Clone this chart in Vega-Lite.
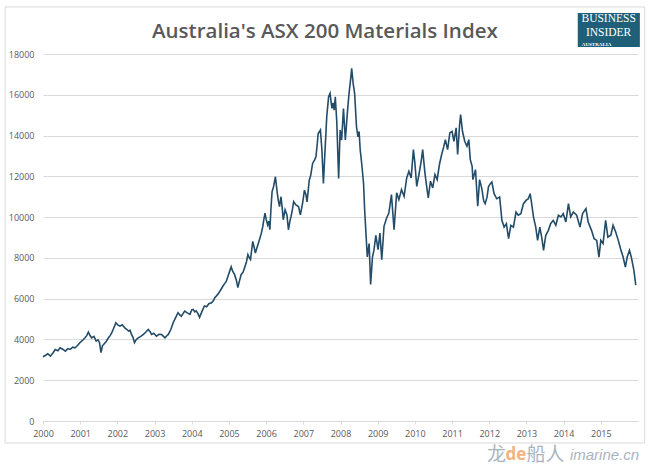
{
  "$schema": "https://vega.github.io/schema/vega-lite/v6.json",
  "width": 595,
  "height": 367,
  "autosize": {"type": "none"},
  "padding": {"left": 43, "top": 54, "right": 10, "bottom": 48},
  "background": "white",
  "config": {"view": {"stroke": null}, "font": "Open Sans"},
  "resolve": {"axis": {"x": "independent", "y": "independent"}},
  "datasets": {
    "index": [
      {"year": 2000.0, "value": 3150}, {"year": 2000.06, "value": 3215}, {"year": 2000.13, "value": 3300},
      {"year": 2000.2, "value": 3180}, {"year": 2000.27, "value": 3350}, {"year": 2000.33, "value": 3510},
      {"year": 2000.4, "value": 3450}, {"year": 2000.46, "value": 3590}, {"year": 2000.53, "value": 3520},
      {"year": 2000.6, "value": 3425}, {"year": 2000.67, "value": 3550}, {"year": 2000.73, "value": 3510},
      {"year": 2000.8, "value": 3620}, {"year": 2000.86, "value": 3590}, {"year": 2000.93, "value": 3700},
      {"year": 2000.99, "value": 3840}, {"year": 2001.06, "value": 3950}, {"year": 2001.13, "value": 4080},
      {"year": 2001.18, "value": 4200}, {"year": 2001.22, "value": 4360}, {"year": 2001.27, "value": 4180},
      {"year": 2001.31, "value": 4080}, {"year": 2001.37, "value": 4150}, {"year": 2001.43, "value": 3920},
      {"year": 2001.48, "value": 3980}, {"year": 2001.52, "value": 3840}, {"year": 2001.56, "value": 3350},
      {"year": 2001.6, "value": 3700}, {"year": 2001.63, "value": 3755}, {"year": 2001.7, "value": 3900},
      {"year": 2001.76, "value": 4080}, {"year": 2001.81, "value": 4200}, {"year": 2001.85, "value": 4330},
      {"year": 2001.9, "value": 4550}, {"year": 2001.96, "value": 4820}, {"year": 2002.02, "value": 4700},
      {"year": 2002.07, "value": 4650}, {"year": 2002.13, "value": 4720}, {"year": 2002.2, "value": 4570},
      {"year": 2002.25, "value": 4500}, {"year": 2002.3, "value": 4410}, {"year": 2002.34, "value": 4450},
      {"year": 2002.38, "value": 4245}, {"year": 2002.42, "value": 4100}, {"year": 2002.46, "value": 3840},
      {"year": 2002.51, "value": 4000}, {"year": 2002.56, "value": 4080}, {"year": 2002.63, "value": 4150},
      {"year": 2002.7, "value": 4245}, {"year": 2002.76, "value": 4350}, {"year": 2002.83, "value": 4490},
      {"year": 2002.88, "value": 4380}, {"year": 2002.92, "value": 4245}, {"year": 2002.98, "value": 4300},
      {"year": 2003.05, "value": 4160}, {"year": 2003.12, "value": 4250}, {"year": 2003.19, "value": 4245},
      {"year": 2003.24, "value": 4150}, {"year": 2003.28, "value": 4080}, {"year": 2003.33, "value": 4180},
      {"year": 2003.37, "value": 4245}, {"year": 2003.44, "value": 4500}, {"year": 2003.5, "value": 4820},
      {"year": 2003.56, "value": 5050}, {"year": 2003.63, "value": 5310}, {"year": 2003.68, "value": 5200},
      {"year": 2003.72, "value": 5140}, {"year": 2003.77, "value": 5280}, {"year": 2003.81, "value": 5390},
      {"year": 2003.88, "value": 5300}, {"year": 2003.95, "value": 5230}, {"year": 2004.0, "value": 5450},
      {"year": 2004.04, "value": 5475}, {"year": 2004.08, "value": 5350}, {"year": 2004.12, "value": 5400},
      {"year": 2004.17, "value": 5250}, {"year": 2004.21, "value": 5080}, {"year": 2004.27, "value": 5350},
      {"year": 2004.34, "value": 5640}, {"year": 2004.4, "value": 5600}, {"year": 2004.46, "value": 5750},
      {"year": 2004.53, "value": 5800}, {"year": 2004.58, "value": 5900}, {"year": 2004.62, "value": 6050},
      {"year": 2004.7, "value": 6210}, {"year": 2004.77, "value": 6400}, {"year": 2004.84, "value": 6620},
      {"year": 2004.89, "value": 6750}, {"year": 2004.93, "value": 6860}, {"year": 2004.99, "value": 7190},
      {"year": 2005.03, "value": 7400}, {"year": 2005.06, "value": 7565}, {"year": 2005.1, "value": 7350},
      {"year": 2005.15, "value": 7190}, {"year": 2005.2, "value": 6900}, {"year": 2005.24, "value": 6540},
      {"year": 2005.28, "value": 6850}, {"year": 2005.33, "value": 7190}, {"year": 2005.38, "value": 7300},
      {"year": 2005.42, "value": 7510}, {"year": 2005.47, "value": 7800}, {"year": 2005.51, "value": 8160},
      {"year": 2005.55, "value": 8000}, {"year": 2005.58, "value": 7920}, {"year": 2005.64, "value": 8810},
      {"year": 2005.68, "value": 8500}, {"year": 2005.71, "value": 8240}, {"year": 2005.77, "value": 8600},
      {"year": 2005.82, "value": 8890}, {"year": 2005.87, "value": 9200}, {"year": 2005.91, "value": 9540},
      {"year": 2005.94, "value": 9900}, {"year": 2005.97, "value": 10190}, {"year": 2006.0, "value": 9900},
      {"year": 2006.04, "value": 9620}, {"year": 2006.07, "value": 9800}, {"year": 2006.1, "value": 9380},
      {"year": 2006.13, "value": 10400}, {"year": 2006.16, "value": 11250}, {"year": 2006.2, "value": 11490},
      {"year": 2006.25, "value": 11980}, {"year": 2006.28, "value": 11500}, {"year": 2006.3, "value": 11170},
      {"year": 2006.33, "value": 10800}, {"year": 2006.36, "value": 10520}, {"year": 2006.4, "value": 11000},
      {"year": 2006.43, "value": 10500}, {"year": 2006.46, "value": 9870}, {"year": 2006.51, "value": 10360},
      {"year": 2006.56, "value": 10110}, {"year": 2006.6, "value": 9380}, {"year": 2006.64, "value": 9800},
      {"year": 2006.67, "value": 10030}, {"year": 2006.71, "value": 10400}, {"year": 2006.74, "value": 10760},
      {"year": 2006.8, "value": 10600}, {"year": 2006.87, "value": 10520}, {"year": 2006.92, "value": 10110},
      {"year": 2006.98, "value": 10680}, {"year": 2007.03, "value": 11320}, {"year": 2007.07, "value": 11100},
      {"year": 2007.1, "value": 10750}, {"year": 2007.16, "value": 11810}, {"year": 2007.2, "value": 12060},
      {"year": 2007.25, "value": 12630}, {"year": 2007.3, "value": 12800}, {"year": 2007.34, "value": 12960},
      {"year": 2007.37, "value": 13500}, {"year": 2007.4, "value": 14100}, {"year": 2007.46, "value": 14270},
      {"year": 2007.5, "value": 13290}, {"year": 2007.54, "value": 11650}, {"year": 2007.58, "value": 13120},
      {"year": 2007.63, "value": 14920}, {"year": 2007.68, "value": 15900}, {"year": 2007.72, "value": 16070},
      {"year": 2007.75, "value": 15600}, {"year": 2007.77, "value": 15330}, {"year": 2007.8, "value": 15600},
      {"year": 2007.83, "value": 15250}, {"year": 2007.86, "value": 15900}, {"year": 2007.9, "value": 14680},
      {"year": 2007.95, "value": 11900}, {"year": 2007.99, "value": 14270}, {"year": 2008.03, "value": 13780},
      {"year": 2008.08, "value": 15330}, {"year": 2008.13, "value": 13780}, {"year": 2008.16, "value": 14500},
      {"year": 2008.19, "value": 15250}, {"year": 2008.23, "value": 16070}, {"year": 2008.28, "value": 16890},
      {"year": 2008.3, "value": 17300}, {"year": 2008.34, "value": 16560}, {"year": 2008.38, "value": 16070},
      {"year": 2008.43, "value": 14430}, {"year": 2008.47, "value": 13940}, {"year": 2008.5, "value": 14200},
      {"year": 2008.53, "value": 13290}, {"year": 2008.57, "value": 12630}, {"year": 2008.62, "value": 11650},
      {"year": 2008.65, "value": 10340}, {"year": 2008.69, "value": 9030}, {"year": 2008.72, "value": 8050},
      {"year": 2008.77, "value": 8700}, {"year": 2008.81, "value": 6700}, {"year": 2008.86, "value": 8050},
      {"year": 2008.9, "value": 8380}, {"year": 2008.95, "value": 9100}, {"year": 2009.01, "value": 8400},
      {"year": 2009.06, "value": 9220}, {"year": 2009.11, "value": 7910}, {"year": 2009.17, "value": 9550},
      {"year": 2009.24, "value": 9960}, {"year": 2009.3, "value": 10200}, {"year": 2009.37, "value": 11100},
      {"year": 2009.44, "value": 9380}, {"year": 2009.51, "value": 11190}, {"year": 2009.57, "value": 10860},
      {"year": 2009.64, "value": 11350}, {"year": 2009.71, "value": 11020}, {"year": 2009.78, "value": 11920},
      {"year": 2009.84, "value": 12250}, {"year": 2009.9, "value": 11920}, {"year": 2009.96, "value": 13310},
      {"year": 2010.0, "value": 12660}, {"year": 2010.05, "value": 11510}, {"year": 2010.11, "value": 12090},
      {"year": 2010.17, "value": 12740}, {"year": 2010.21, "value": 13310}, {"year": 2010.27, "value": 12170},
      {"year": 2010.31, "value": 11590}, {"year": 2010.36, "value": 10940}, {"year": 2010.42, "value": 11760},
      {"year": 2010.48, "value": 11430}, {"year": 2010.54, "value": 12090}, {"year": 2010.6, "value": 11840},
      {"year": 2010.66, "value": 12580}, {"year": 2010.72, "value": 13070}, {"year": 2010.78, "value": 13480},
      {"year": 2010.82, "value": 13800}, {"year": 2010.88, "value": 13310}, {"year": 2010.94, "value": 14130},
      {"year": 2011.0, "value": 14210}, {"year": 2011.05, "value": 13720}, {"year": 2011.11, "value": 14380},
      {"year": 2011.15, "value": 13070}, {"year": 2011.2, "value": 14460}, {"year": 2011.23, "value": 15030},
      {"year": 2011.28, "value": 14210}, {"year": 2011.34, "value": 13720}, {"year": 2011.4, "value": 13480},
      {"year": 2011.45, "value": 13800}, {"year": 2011.49, "value": 12820}, {"year": 2011.54, "value": 12490},
      {"year": 2011.56, "value": 11840}, {"year": 2011.63, "value": 12330}, {"year": 2011.69, "value": 10530},
      {"year": 2011.74, "value": 11840}, {"year": 2011.8, "value": 11400}, {"year": 2011.85, "value": 10800},
      {"year": 2011.89, "value": 10660}, {"year": 2011.94, "value": 10980}, {"year": 2011.98, "value": 11500},
      {"year": 2012.03, "value": 11640}, {"year": 2012.07, "value": 11720}, {"year": 2012.13, "value": 11150},
      {"year": 2012.2, "value": 10900}, {"year": 2012.28, "value": 10980}, {"year": 2012.34, "value": 9840},
      {"year": 2012.4, "value": 9510}, {"year": 2012.46, "value": 9680}, {"year": 2012.52, "value": 8940},
      {"year": 2012.58, "value": 9600}, {"year": 2012.65, "value": 9510}, {"year": 2012.72, "value": 10250},
      {"year": 2012.78, "value": 10090}, {"year": 2012.85, "value": 10170}, {"year": 2012.92, "value": 10660},
      {"year": 2012.99, "value": 10820}, {"year": 2013.05, "value": 10900}, {"year": 2013.1, "value": 11150},
      {"year": 2013.14, "value": 10660}, {"year": 2013.19, "value": 10000}, {"year": 2013.25, "value": 9510},
      {"year": 2013.3, "value": 8860}, {"year": 2013.36, "value": 9510}, {"year": 2013.41, "value": 9020},
      {"year": 2013.46, "value": 8370}, {"year": 2013.52, "value": 9110}, {"year": 2013.59, "value": 9350},
      {"year": 2013.65, "value": 9680}, {"year": 2013.72, "value": 9840}, {"year": 2013.79, "value": 9600},
      {"year": 2013.86, "value": 10090}, {"year": 2013.93, "value": 10010}, {"year": 2013.99, "value": 10170},
      {"year": 2014.06, "value": 9760}, {"year": 2014.13, "value": 10660}, {"year": 2014.19, "value": 10010},
      {"year": 2014.26, "value": 10250}, {"year": 2014.35, "value": 10090}, {"year": 2014.44, "value": 9510},
      {"year": 2014.51, "value": 10170}, {"year": 2014.6, "value": 10420}, {"year": 2014.66, "value": 9760},
      {"year": 2014.75, "value": 9350}, {"year": 2014.82, "value": 8940}, {"year": 2014.89, "value": 8860},
      {"year": 2014.95, "value": 8040}, {"year": 2015.0, "value": 8860}, {"year": 2015.06, "value": 8700},
      {"year": 2015.13, "value": 9840}, {"year": 2015.19, "value": 9020}, {"year": 2015.27, "value": 9110},
      {"year": 2015.33, "value": 9600}, {"year": 2015.4, "value": 9270}, {"year": 2015.47, "value": 8860},
      {"year": 2015.53, "value": 8450}, {"year": 2015.6, "value": 8040}, {"year": 2015.66, "value": 7550},
      {"year": 2015.71, "value": 8040}, {"year": 2015.77, "value": 8370}, {"year": 2015.82, "value": 8040},
      {"year": 2015.89, "value": 7390}, {"year": 2015.94, "value": 6660}
    ],
    "one": [{}]
  },
  "layer": [
    {
      "data": {"name": "index"},
      "mark": {"type": "line", "color": "#234c69", "strokeWidth": 1.6},
      "encoding": {
        "x": {
          "field": "year",
          "type": "quantitative",
          "scale": {"domain": [2000, 2016], "nice": false, "zero": false},
          "axis": {
            "values": [2000, 2001, 2002, 2003, 2004, 2005, 2006, 2007, 2008, 2009, 2010, 2011, 2012, 2013, 2014, 2015],
            "format": "d",
            "title": null,
            "grid": false,
            "labelFlush": false,
            "labelOverlap": false,
            "domainColor": "#d9d9d9",
            "tickColor": "#d9d9d9",
            "tickSize": 3,
            "labelColor": "#595959",
            "labelFontSize": 9,
            "labelPadding": 5
          }
        },
        "y": {
          "field": "value",
          "type": "quantitative",
          "scale": {"domain": [0, 18000], "nice": false},
          "axis": {
            "values": [0, 2000, 4000, 6000, 8000, 10000, 12000, 14000, 16000, 18000],
            "format": "d",
            "title": null,
            "grid": true,
            "gridColor": "#d9d9d9",
            "domain": false,
            "ticks": false,
            "labelOverlap": false,
            "labelPadding": 9,
            "labelColor": "#595959",
            "labelFontSize": 9
          }
        }
      }
    },
    {
      "data": {"name": "one"},
      "mark": {"type": "rect", "fill": null, "stroke": "#d9d9d9", "strokeWidth": 1, "clip": false},
      "encoding": {
        "x": {"datum": 1998.98, "type": "quantitative", "axis": null},
        "x2": {"datum": 2016.18},
        "y": {"datum": 20307, "type": "quantitative", "axis": null},
        "y2": {"datum": -1079}
      }
    },
    {
      "data": {"name": "one"},
      "mark": {"type": "text", "color": "#595959", "font": "Open Sans", "fontSize": 20.5, "fontWeight": 600, "align": "center", "baseline": "middle", "clip": false},
      "encoding": {
        "x": {"datum": 2007.58, "type": "quantitative", "axis": null},
        "y": {"datum": 19080, "type": "quantitative", "axis": null},
        "text": {"value": "Australia's ASX 200 Materials Index"}
      }
    },
    {
      "data": {"name": "one"},
      "mark": {"type": "rect", "fill": "#1f5f78", "clip": false},
      "encoding": {
        "x": {"datum": 2014.38, "type": "quantitative", "axis": null},
        "x2": {"datum": 2016.05},
        "y": {"datum": 20010, "type": "quantitative", "axis": null},
        "y2": {"datum": 18345}
      }
    },
    {
      "data": {"name": "one"},
      "mark": {"type": "text", "color": "white", "font": "Liberation Serif", "fontSize": 11.5, "align": "center", "baseline": "middle", "clip": false},
      "encoding": {
        "x": {"datum": 2015.21, "type": "quantitative", "axis": null},
        "y": {"datum": 19710, "type": "quantitative", "axis": null},
        "text": {"value": "BUSINESS"}
      }
    },
    {
      "data": {"name": "one"},
      "mark": {"type": "text", "color": "white", "font": "Liberation Serif", "fontSize": 11.5, "align": "center", "baseline": "middle", "clip": false},
      "encoding": {
        "x": {"datum": 2015.21, "type": "quantitative", "axis": null},
        "y": {"datum": 19020, "type": "quantitative", "axis": null},
        "text": {"value": "INSIDER"}
      }
    },
    {
      "data": {"name": "one"},
      "mark": {"type": "text", "color": "white", "font": "Liberation Serif", "fontSize": 5, "fontWeight": "bold", "align": "left", "baseline": "middle", "clip": false},
      "encoding": {
        "x": {"datum": 2014.49, "type": "quantitative", "axis": null},
        "y": {"datum": 18480, "type": "quantitative", "axis": null},
        "text": {"value": "AUSTRALIA"}
      }
    },
    {
      "data": {"name": "one"},
      "mark": {"type": "text", "color": "#aab4bf", "font": "Noto Sans CJK SC", "fontSize": 19, "align": "left", "baseline": "middle", "clip": false},
      "encoding": {
        "x": {"datum": 2011.94, "type": "quantitative", "axis": null},
        "y": {"datum": -1668, "type": "quantitative", "axis": null},
        "text": {"value": "龙"}
      }
    },
    {
      "data": {"name": "one"},
      "mark": {"type": "text", "color": "#f5b27a", "font": "Open Sans", "fontSize": 17, "fontWeight": "bold", "align": "left", "baseline": "middle", "clip": false},
      "encoding": {
        "x": {"datum": 2012.44, "type": "quantitative", "axis": null},
        "y": {"datum": -1668, "type": "quantitative", "axis": null},
        "text": {"value": "de"}
      }
    },
    {
      "data": {"name": "one"},
      "mark": {"type": "text", "color": "#aab4bf", "font": "Noto Sans CJK SC", "fontSize": 19, "align": "left", "baseline": "middle", "clip": false},
      "encoding": {
        "x": {"datum": 2013.0, "type": "quantitative", "axis": null},
        "y": {"datum": -1668, "type": "quantitative", "axis": null},
        "text": {"value": "船人"}
      }
    },
    {
      "data": {"name": "one"},
      "mark": {"type": "text", "color": "#aab4bf", "font": "Liberation Sans", "fontSize": 15, "fontStyle": "italic", "align": "left", "baseline": "middle", "clip": false},
      "encoding": {
        "x": {"datum": 2014.17, "type": "quantitative", "axis": null},
        "y": {"datum": -1668, "type": "quantitative", "axis": null},
        "text": {"value": "imarine.cn"}
      }
    }
  ]
}
